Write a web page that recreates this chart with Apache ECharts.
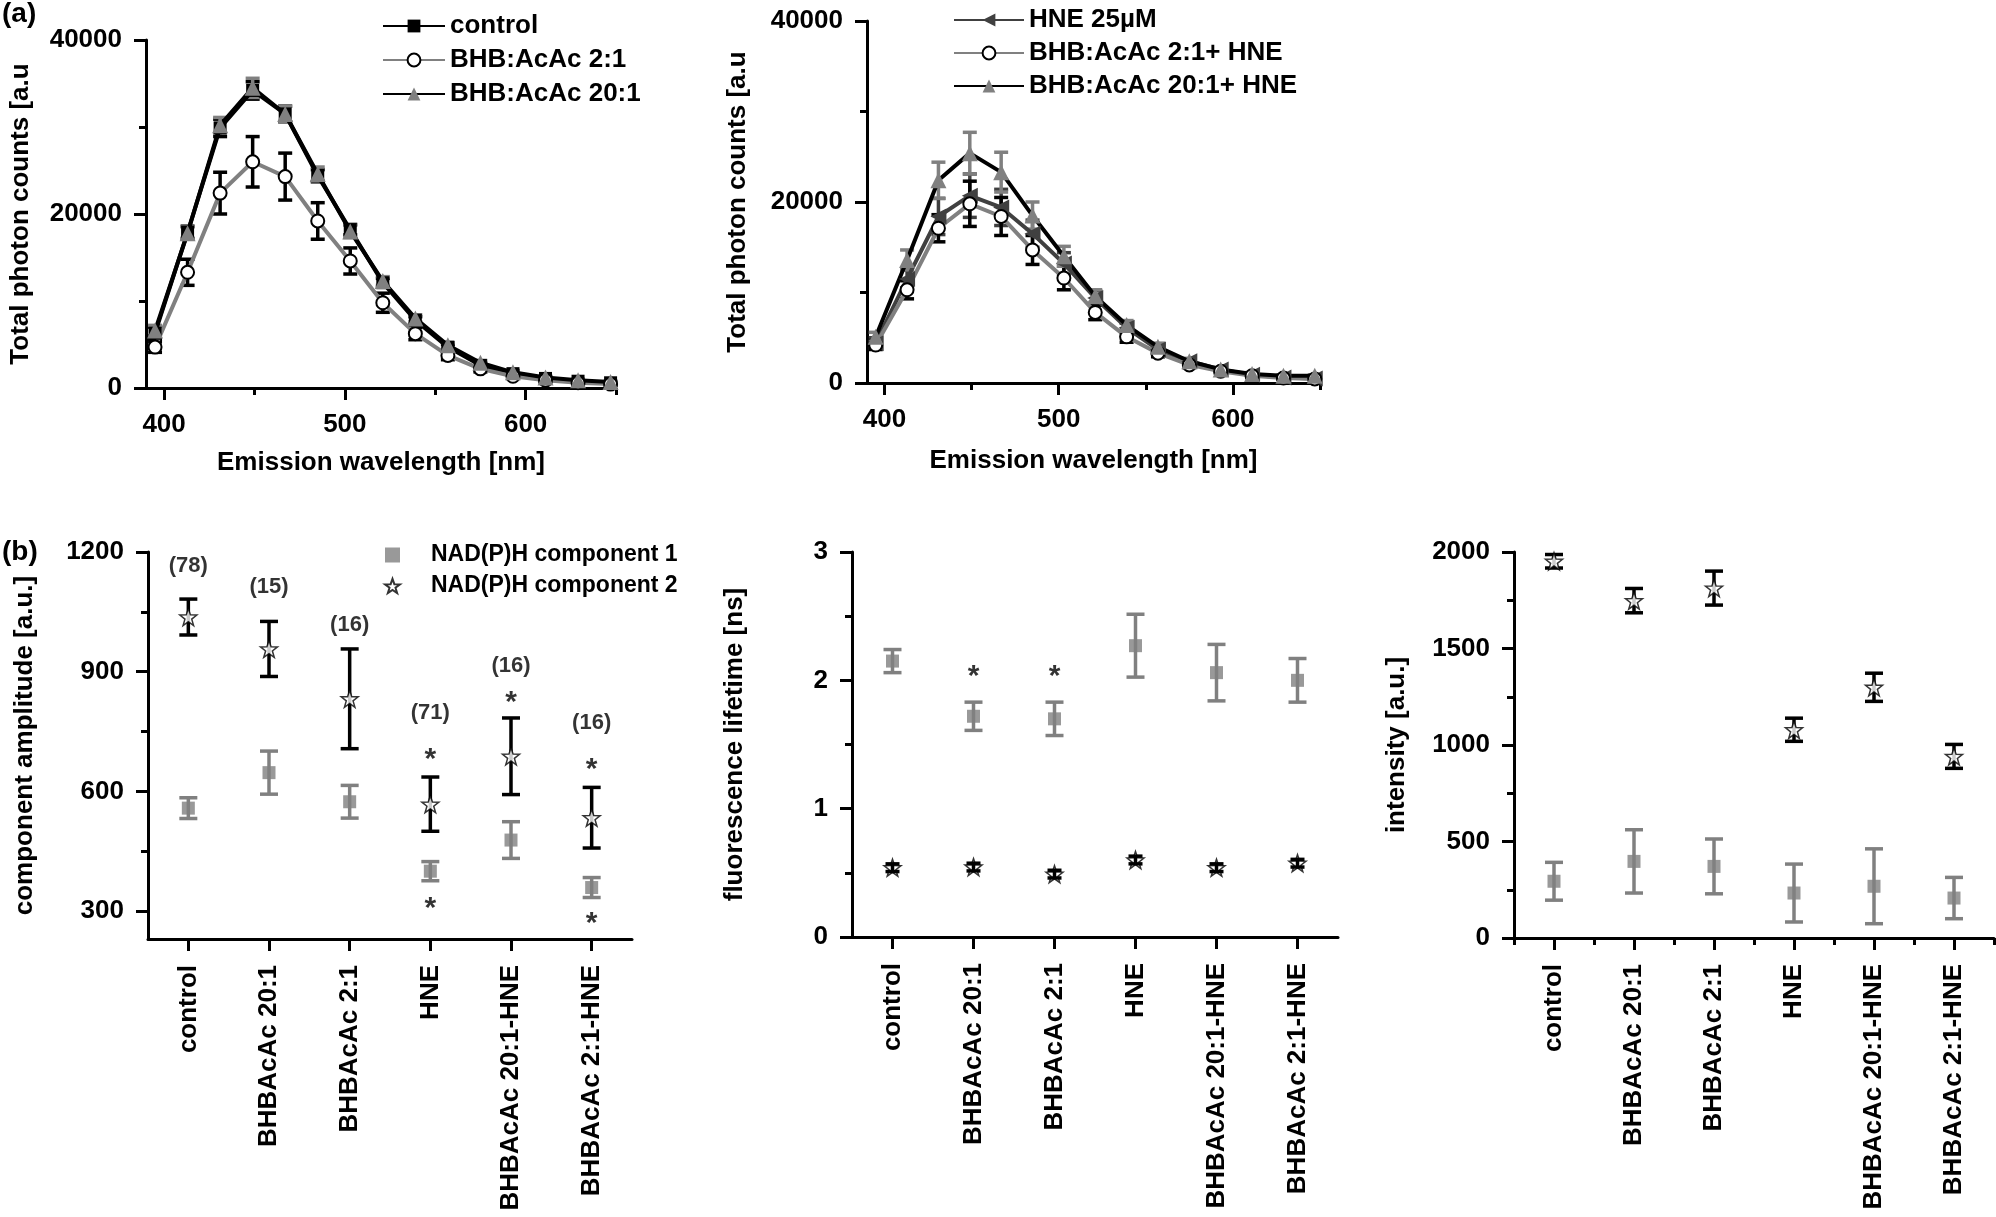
<!DOCTYPE html>
<html>
<head>
  <meta charset="utf-8">
  <title>NAD(P)H spectra and components</title>
  <script src="https://cdn.jsdelivr.net/npm/echarts@6/dist/echarts.min.js"></script>
  <style>
    html, body { margin: 0; padding: 0; background: #fff; }
    #chart { width: 1996px; height: 1217px; }
  </style>
</head>
<body>
<div id="chart"></div>
<script>
  // ---- panel (a): emission spectra ----
  var wavelength = [395, 413, 431, 449, 467, 485, 503, 521, 539, 557, 575, 593, 611, 629, 647];

  var control      = [6300, 17900, 29900, 34200, 31500, 24400, 18200, 12100, 7800, 4700, 2600, 1650, 1100, 780, 600];
  var controlErr   = [700, 700, 1000, 1000, 900, 700, 600, 500, 400, 300, 250, 200, 150, 120, 100];
  var bhb21        = [4700, 13300, 22400, 26000, 24300, 19200, 14600, 9800, 6250, 3750, 2200, 1350, 900, 600, 450];
  var bhb21Err     = [600, 1500, 2400, 2900, 2700, 2100, 1500, 1100, 700, 500, 350, 250, 200, 150, 100];
  var bhb201       = [6600, 17800, 30200, 34500, 31500, 24600, 18000, 12300, 8000, 4900, 2900, 1800, 1200, 900, 700];
  var bhb201Err    = [600, 700, 900, 1100, 900, 800, 700, 500, 400, 300, 250, 200, 150, 120, 100];

  var hne          = [4400, 11500, 18400, 20700, 19400, 16500, 13200, 9400, 6100, 3700, 2400, 1500, 900, 600, 500];
  var hneErr       = [600, 1000, 2000, 2400, 2000, 1500, 1200, 800, 500, 400, 300, 200, 150, 100, 100];
  var bhb21hne     = [4200, 10300, 17100, 19800, 18400, 14700, 11600, 7800, 5100, 3300, 2000, 1300, 800, 550, 450];
  var bhb21hneErr  = [500, 1000, 1500, 2500, 2100, 1600, 1300, 800, 600, 400, 300, 200, 150, 100, 100];
  var bhb201hne    = [5100, 13600, 22400, 25400, 23300, 18500, 14000, 9600, 6400, 4000, 2400, 1500, 1000, 800, 800];
  var bhb201hneErr = [500, 1100, 2000, 2300, 2200, 1500, 1100, 700, 500, 400, 300, 200, 150, 100, 100];

  var wlLabels = [400, 500, 600];
  var wlMinor  = [450, 550, 650];

  // ---- panel (b): components ----
  var groups = ['control', 'BHBAcAc 20:1', 'BHBAcAc 2:1', 'HNE', 'BHBAcAc 20:1-HNE', 'BHBAcAc 2:1-HNE'];

  var amp1    = [558, 647, 574, 400, 478, 359];
  var amp1Err = [26, 54, 41, 24, 46, 25];
  var amp2    = [1037, 957, 832, 568, 688, 534];
  var amp2Err = [45, 69, 125, 68, 96, 76];
  var ampN    = ['(78)', '(15)', '(16)', '(71)', '(16)', '(16)'];
  var ampNPos = [1166, 1112, 1017, 796, 915, 771];
  var ampStars = [[3, 698], [3, 323], [4, 840], [5, 673], [5, 287]];
  var ampTicks = [300, 600, 900, 1200];
  var ampMinor = [450, 750, 1050];

  var life1    = [2.15, 1.72, 1.70, 2.27, 2.06, 2.00];
  var life1Err = [0.09, 0.11, 0.13, 0.245, 0.22, 0.17];
  var life2    = [0.54, 0.545, 0.49, 0.60, 0.54, 0.575];
  var life2Err = [0.03, 0.03, 0.03, 0.03, 0.03, 0.03];
  var lifeStars = [[1, 2.08], [2, 2.08]];

  var int1    = [294, 397, 371, 233, 268, 207];
  var int1Err = [98, 164, 142, 150, 194, 107];
  var int2    = [1952, 1748, 1813, 1079, 1299, 941];
  var int2Err = [35, 63, 88, 60, 73, 62];

  var FONT = "'Liberation Sans', Arial, sans-serif";
  var GRAY = '#808080';
  var DARK = '#404040';
  var STAR = 'path://M0,-10L2.35,-3.24L9.51,-3.09L3.8,1.24L5.88,8.09L0,4L-5.88,8.09L-3.8,1.24L-9.51,-3.09L-2.35,-3.24Z';

  var chart = echarts.init(document.getElementById('chart'));

  function pairs(xs, ys) { return xs.map(function (x, i) { return [x, ys[i]]; }); }
  function triples(xs, ys, es) { return xs.map(function (x, i) { return [x, ys[i], es[i]]; }); }
  function idx(ys, es) { return ys.map(function (y, i) { return es ? [i, y, es[i]] : [i, y]; }); }

  function errBars(xi, yi, data, color, cap) {
    return {
      type: 'custom', xAxisIndex: xi, yAxisIndex: yi, z: 3, clip: false,
      encode: { x: 0, y: 1 }, data: data, silent: true,
      renderItem: function (params, api) {
        var x = api.value(0), y = api.value(1), e = api.value(2);
        var t = api.coord([x, y + e]), b = api.coord([x, y - e]);
        var st = { stroke: color, lineWidth: 3.5 };
        return { type: 'group', children: [
          { type: 'line', shape: { x1: t[0], y1: t[1], x2: b[0], y2: b[1] }, style: st },
          { type: 'line', shape: { x1: t[0] - cap, y1: t[1], x2: t[0] + cap, y2: t[1] }, style: st },
          { type: 'line', shape: { x1: b[0] - cap, y1: b[1], x2: b[0] + cap, y2: b[1] }, style: st }
        ] };
      }
    };
  }

  var axisLine = { show: true, onZero: false, lineStyle: { color: '#000', width: 3 } };
  var tick = { show: true, length: 12, lineStyle: { color: '#000', width: 3 } };
  var minor = { show: true, length: 7, lineStyle: { color: '#000', width: 3 } };
  var plain = function (v) { return String(v); };
  var label = { color: '#000', fontWeight: 'bold', fontSize: 26, fontFamily: FONT };
  var nameStyle = { color: '#000', fontWeight: 'bold', fontSize: 26, fontFamily: FONT };

  function wlAxis(gi, gap) {
    return [{
      type: 'value', gridIndex: gi, min: 390, max: 650, position: 'bottom',
      name: 'Emission wavelength [nm]', nameLocation: 'middle', nameGap: gap, nameTextStyle: nameStyle,
      axisLine: axisLine, splitLine: { show: false },
      axisTick: Object.assign({ customValues: wlLabels }, tick),
      axisLabel: Object.assign({ customValues: wlLabels, margin: 24, formatter: plain }, label)
    }, {
      type: 'value', gridIndex: gi, min: 390, max: 650, position: 'bottom',
      axisLine: { show: false }, splitLine: { show: false }, axisLabel: { show: false },
      axisTick: Object.assign({ customValues: wlMinor }, minor)
    }];
  }

  function catAxis(gi, boundaryTicks) {
    var list = [{
      type: 'category', gridIndex: gi, data: groups, position: 'bottom',
      axisLine: axisLine,
      axisTick: Object.assign({ alignWithLabel: true, interval: 0 }, tick),
      axisLabel: Object.assign({ rotate: 90, margin: 26, interval: 0 }, label)
    }];
    if (boundaryTicks) {
      list.push({
        type: 'category', gridIndex: gi, data: groups, position: 'bottom',
        axisLine: { show: false }, axisLabel: { show: false },
        axisTick: Object.assign({ alignWithLabel: false, interval: 0 }, minor)
      });
    }
    return list;
  }

  function valAxis(gi, min, max, interval, name, gap) {
    return {
      type: 'value', gridIndex: gi, min: min, max: max, interval: interval, position: 'left',
      name: name, nameLocation: 'middle', nameGap: gap, nameTextStyle: nameStyle,
      axisLine: axisLine, splitLine: { show: false }, axisTick: tick,
      minorTick: Object.assign({ splitNumber: 2 }, minor),
      axisLabel: Object.assign({ margin: 24, formatter: plain }, label)
    };
  }

  function lineSeries(name, xi, yi, data, lineColor, symbol, fill, border, rotate) {
    var size = symbol === 'circle' ? 13 : (symbol === 'rect' ? 13 : 16);
    return {
      name: name, type: 'line', xAxisIndex: xi, yAxisIndex: yi, z: 4,
      data: data, symbol: symbol, symbolSize: size, symbolRotate: rotate || 0,
      showAllSymbol: true,
      lineStyle: { color: lineColor, width: 4 },
      itemStyle: { color: fill, borderColor: border, borderWidth: border === fill ? 0 : 2 }
    };
  }

  var xAxes = [].concat(wlAxis(0, 62), wlAxis(1, 65), catAxis(2, false), catAxis(3, false), catAxis(4, true));
  // indices: 0,1 grid0; 2,3 grid1; 4 grid2; 5 grid3; 6,7 grid4

  var yAxes = [
    valAxis(0, 0, 40000, 20000, 'Total photon counts [a.u', 112),
    valAxis(1, 0, 40000, 20000, 'Total photon counts [a.u', 116),
    {
      type: 'value', gridIndex: 2, min: 230, max: 1200, position: 'left',
      name: 'component amplitude [a.u.]', nameLocation: 'middle', nameGap: 110, nameTextStyle: nameStyle,
      axisLine: axisLine, splitLine: { show: false },
      axisTick: Object.assign({ customValues: ampTicks }, tick),
      axisLabel: Object.assign({ customValues: ampTicks, margin: 24, formatter: plain }, label)
    },
    valAxis(3, 0, 3, 1, 'fluorescence lifetime [ns]', 104),
    valAxis(4, 0, 2000, 500, 'intensity [a.u.]', 104),
    {
      type: 'value', gridIndex: 2, min: 230, max: 1200, position: 'left',
      axisLine: { show: false }, splitLine: { show: false }, axisLabel: { show: false },
      axisTick: Object.assign({ customValues: ampMinor }, minor)
    }
  ];

  var series = [
    // panel a, left
    lineSeries('control', 0, 0, pairs(wavelength, control), '#000', 'rect', '#000', '#000'),
    lineSeries('BHB:AcAc 2:1', 0, 0, pairs(wavelength, bhb21), GRAY, 'circle', '#fff', '#000'),
    lineSeries('BHB:AcAc 20:1', 0, 0, pairs(wavelength, bhb201), '#000', 'triangle', GRAY, GRAY),
    errBars(0, 0, triples(wavelength, control, controlErr), '#000', 7),
    errBars(0, 0, triples(wavelength, bhb21, bhb21Err), '#000', 7),
    errBars(0, 0, triples(wavelength, bhb201, bhb201Err), GRAY, 7),
    // panel a, right
    lineSeries('HNE 25\u00b5M', 2, 1, pairs(wavelength, hne), DARK, 'triangle', DARK, DARK, 90),
    lineSeries('BHB:AcAc 2:1+ HNE', 2, 1, pairs(wavelength, bhb21hne), GRAY, 'circle', '#fff', '#000'),
    lineSeries('BHB:AcAc 20:1+ HNE', 2, 1, pairs(wavelength, bhb201hne), '#000', 'triangle', GRAY, GRAY),
    errBars(2, 1, triples(wavelength, hne, hneErr), DARK, 7),
    errBars(2, 1, triples(wavelength, bhb21hne, bhb21hneErr), '#000', 7),
    errBars(2, 1, triples(wavelength, bhb201hne, bhb201hneErr), GRAY, 7)
  ];

  function comp(name, xi, yi, data, isStar) {
    return {
      name: name, type: 'scatter', xAxisIndex: xi, yAxisIndex: yi, z: 5, data: data,
      symbol: isStar ? STAR : 'rect', symbolSize: isStar ? 17 : 13,
      itemStyle: isStar ? { color: '#fff', borderColor: '#000', borderWidth: 1.5 } : { color: GRAY }
    };
  }
  function texts(xi, yi, data, size, weight, dy) {
    return {
      type: 'scatter', xAxisIndex: xi, yAxisIndex: yi, symbolSize: 0, silent: true, data: data,
      label: { show: true, position: 'inside', offset: [0, dy], formatter: function (p) { return p.value[2]; },
               color: '#000', fontSize: size, fontWeight: weight, fontFamily: FONT }
    };
  }

  var lifeBars2 = errBars(5, 3, idx(life2, life2Err), '#000', 7);
  lifeBars2.z = 6; // these short bars sit over the stars, as in the figure

  series.push(
    errBars(4, 2, idx(amp1, amp1Err), GRAY, 9),
    errBars(4, 2, idx(amp2, amp2Err), '#000', 9),
    comp('NAD(P)H component 1', 4, 2, idx(amp1), false),
    comp('NAD(P)H component 2', 4, 2, idx(amp2), true),
    texts(4, 2, ampNPos.map(function (v, i) { return [i, v, ampN[i]]; }), 22, 'bold', 0),
    texts(4, 2, ampStars.map(function (s) { return [s[0], s[1], '*']; }), 30, 'bold', 7),

    errBars(5, 3, idx(life1, life1Err), GRAY, 9),
    comp('c1', 5, 3, idx(life1), false),
    comp('c2', 5, 3, idx(life2), true),
    lifeBars2,
    texts(5, 3, lifeStars.map(function (s) { return [s[0], s[1], '*']; }), 30, 'bold', 7),

    errBars(6, 4, idx(int1, int1Err), GRAY, 9),
    errBars(6, 4, idx(int2, int2Err), '#000', 9),
    comp('c1b', 6, 4, idx(int1), false),
    comp('c2b', 6, 4, idx(int2), true)
  );

  var legendText = { color: '#000', fontWeight: 'bold', fontSize: 26, fontFamily: FONT, lineHeight: 30 };

  chart.setOption({
    animation: false,
    backgroundColor: '#fff',
    grid: [
      { left: 146, top: 40, width: 470, height: 348 },
      { left: 867, top: 21, width: 453, height: 362 },
      { left: 148, top: 552, width: 484, height: 387 },
      { left: 852, top: 552, width: 486, height: 385 },
      { left: 1514, top: 552, width: 480, height: 386 }
    ],
    xAxis: xAxes,
    yAxis: yAxes,
    legend: [
      { data: ['control', 'BHB:AcAc 2:1', 'BHB:AcAc 20:1'], orient: 'vertical', left: 377, top: 6,
        itemWidth: 62, itemHeight: 16, itemGap: 4, textStyle: legendText, selectedMode: false },
      { data: ['HNE 25\u00b5M', 'BHB:AcAc 2:1+ HNE', 'BHB:AcAc 20:1+ HNE'], orient: 'vertical', left: 948, top: 0,
        itemWidth: 70, itemHeight: 16, itemGap: 3, textStyle: legendText, selectedMode: false },
      { data: ['NAD(P)H component 1', 'NAD(P)H component 2'], orient: 'vertical', left: 379, top: 535,
        itemWidth: 15, itemHeight: 15, itemGap: 1, selectedMode: false,
        textStyle: { color: '#000', fontWeight: 'bold', fontSize: 23, fontFamily: FONT, lineHeight: 30, padding: [0, 0, 0, 26] } }
    ],
    graphic: [
      { type: 'text', left: 2, top: 0, style: { text: '(a)', font: 'bold 28px ' + FONT, fill: '#000' } },
      { type: 'text', left: 2, top: 538, style: { text: '(b)', font: 'bold 28px ' + FONT, fill: '#000' } }
    ],
    series: series
  });
</script>
</body>
</html>
